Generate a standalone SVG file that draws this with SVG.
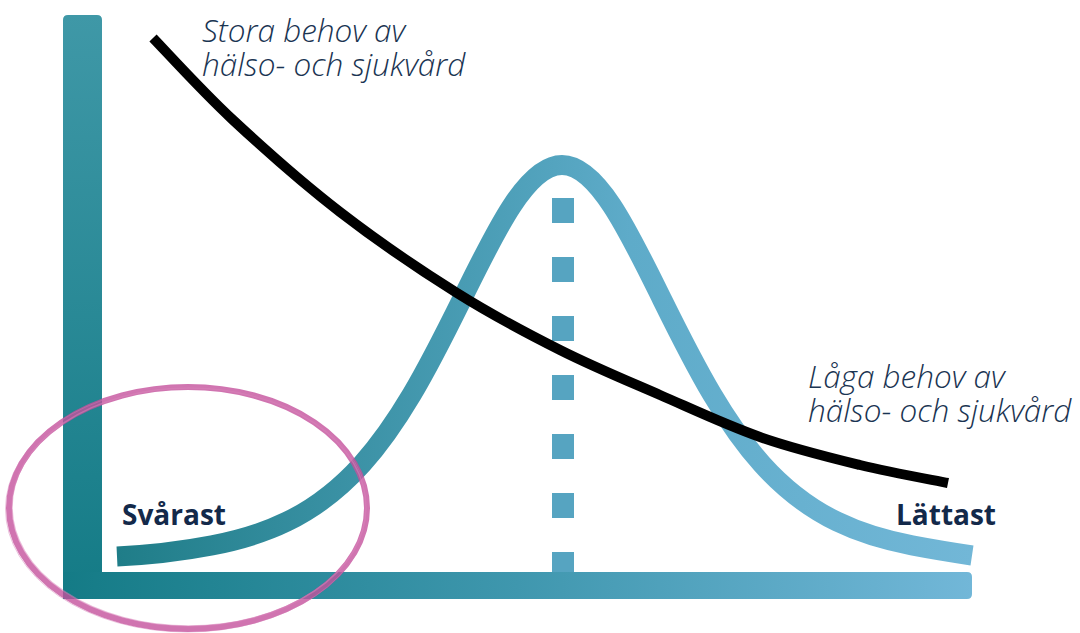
<svg xmlns="http://www.w3.org/2000/svg" width="1080" height="633" viewBox="0 0 1080 633">
  <defs>
    <linearGradient id="gVert" gradientUnits="userSpaceOnUse" x1="0" y1="15" x2="0" y2="599">
      <stop offset="0" stop-color="#3f98a7"/>
      <stop offset="1" stop-color="#147b86"/>
    </linearGradient>
    <linearGradient id="gHoriz" gradientUnits="userSpaceOnUse" x1="63" y1="0" x2="972" y2="0">
      <stop offset="0" stop-color="#147b86"/>
      <stop offset="0.5" stop-color="#3f97ae"/>
      <stop offset="1" stop-color="#72b7d8"/>
    </linearGradient>
    <linearGradient id="gBell" gradientUnits="userSpaceOnUse" x1="117" y1="0" x2="972" y2="0">
      <stop offset="0" stop-color="#1f7d88"/>
      <stop offset="0.45" stop-color="#4d9fb8"/>
      <stop offset="0.6" stop-color="#5eabc9"/>
      <stop offset="1" stop-color="#72b7d7"/>
    </linearGradient>
    <style>
      .italic { font-family: "Open Sans", "Noto Sans", sans-serif; font-style: italic; font-weight: 300; font-size: 31.5px; fill: #1a3452; }
      .bold { font-family: "Open Sans", "Noto Sans", sans-serif; font-weight: 700; font-size: 28px; fill: #13294a; }
    </style>
  </defs>
  <rect width="1080" height="633" fill="#ffffff"/>

  <g id="axes">
    <path d="M68,15 H97 Q102,15 102,20 V599 H63 V20 Q63,15 68,15 Z" fill="url(#gVert)"/>
    <path d="M63,572 H967 Q972,572 972,577 V594 Q972,599 967,599 H68 Q63,599 63,594 Z" fill="url(#gHoriz)"/>
  </g>

  <g id="median-line">
    <line x1="563" y1="198" x2="563" y2="572" stroke="#56a4c1" stroke-width="22" stroke-dasharray="25 34"/>
  </g>

  <g id="connectors">
    <path id="bell-curve" fill="none" stroke="url(#gBell)" stroke-width="20"
      d="M117,556.5 C148.7,555 180.3,551.5 212,545.4 C237,540.6 262,533.8 287,521.6 C312,509.4 337,491.9 362,464.1 C378.7,445.5 395.3,422.2 412,394.1 C428.7,366 445.3,333 462,299.2 C478.7,265.4 495.3,231 512,205.7 C528.7,180.4 545.3,165 562,165 C578.7,165 595.3,180.4 612,205.7 C628.7,231 645.3,265.4 662,299.2 C678.7,333 695.3,366 712,394.1 C728.7,422.2 745.3,445.5 762,464.1 C787,491.9 812,509.4 837,521.6 C862,533.8 887,540.6 912,545.4 C932,549.2 952,552.5 972,555.5"/>
    <path id="needs-curve" fill="none" stroke="#000000" stroke-width="10"
      d="M153,38 C166.3,51.7 201.8,91 233,120 C264.2,149 302.7,183.2 340,212 C377.3,240.8 420.3,270 457,293 C493.7,316 526.2,333 560,350 C593.8,367 626.7,380.5 660,395 C693.3,409.5 726.7,425.3 760,437 C793.3,448.7 828.7,457.3 860,465 C891.3,472.7 933.3,480 948,483"/>
  </g>

  <g id="label-high">
    <text class="italic" x="202" y="42"><tspan x="202" y="42">Stora behov av</tspan><tspan x="202" y="76">hälso- och sjukvård</tspan></text>
  </g>
  <g id="label-low">
    <text class="italic" x="808" y="388"><tspan x="808" y="388">Låga behov av</tspan><tspan x="808" y="422">hälso- och sjukvård</tspan></text>
  </g>
  <g id="label-hardest">
    <text class="bold" x="122" y="525">Svårast</text>
  </g>
  <g id="label-easiest">
    <text class="bold" x="896" y="525">Lättast</text>
  </g>

  <g id="highlight">
    <ellipse cx="188" cy="508" rx="179" ry="121" fill="none" stroke="#c4519c" stroke-width="6" opacity="0.8"/>
    <ellipse cx="189" cy="507" rx="177" ry="119" fill="none" stroke="#d883ba" stroke-width="1.5" opacity="0.55"/>
    <ellipse cx="187" cy="509" rx="181.5" ry="123" fill="none" stroke="#d27ab4" stroke-width="1" opacity="0.45"/>
  </g>
</svg>
